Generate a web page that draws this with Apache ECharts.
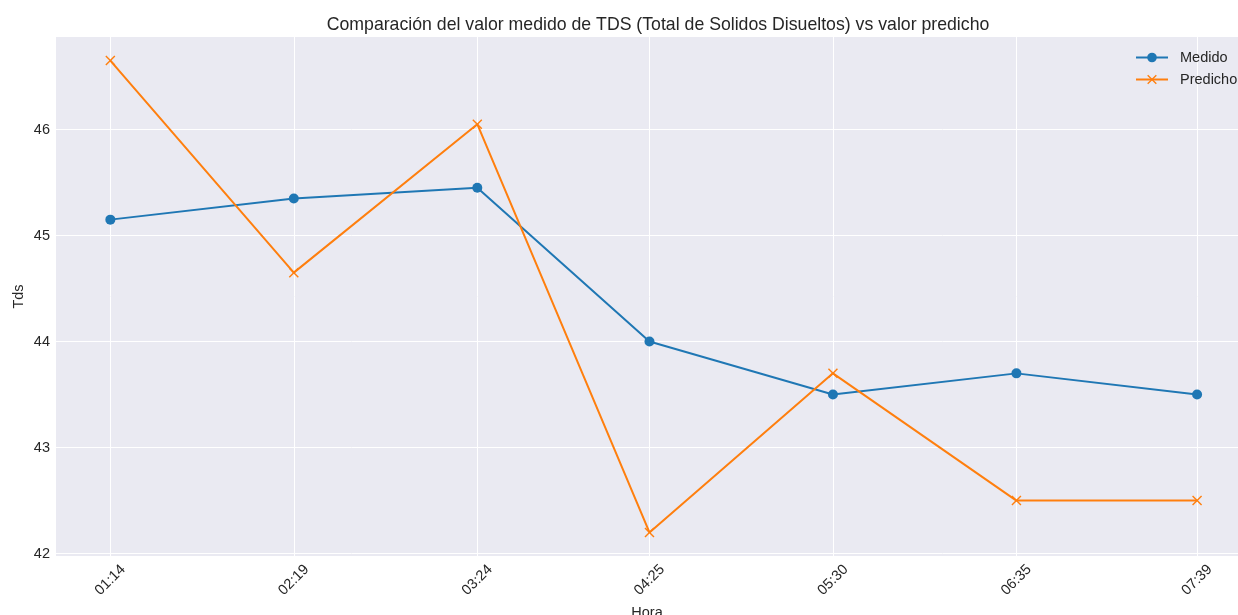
<!DOCTYPE html>
<html>
<head>
<meta charset="utf-8">
<script src="https://cdn.jsdelivr.net/npm/echarts@6/dist/echarts.min.js"></script>
<style>html,body{margin:0;padding:0;background:#fff}#c{width:1238px;height:615px}</style>
</head>
<body>
<div id="c"></div>
<script>
const horas = ['01:14','02:19','03:24','04:25','05:30','06:35','07:39'];
const medido = [45.15, 45.35, 45.45, 44.0, 43.5, 43.7, 43.5];
const predicho = [46.65, 44.65, 46.05, 42.2, 43.7, 42.5, 42.5];
const yTicks = [42, 43, 44, 45, 46];

function toMin(h){ const p = h.split(':'); return (+p[0])*60 + (+p[1]); }
const xs = horas.map(toMin);
const labelOf = {}; horas.forEach((h,i)=>{ labelOf[xs[i]] = h; });

const FONT = '"Liberation Sans", Arial, sans-serif';
const TXT = '#262626';
const xPath = 'path://M1,0 L5,4 L9,0 L10,1 L6,5 L10,9 L9,10 L5,6 L1,10 L0,9 L4,5 L0,1 Z';

const chart = echarts.init(document.getElementById('c'), null, {renderer:'canvas'});
chart.setOption({
  backgroundColor: '#ffffff',
  animation: false,
  title: {
    text: 'Comparación del valor medido de TDS (Total de Solidos Disueltos) vs valor predicho',
    left: 653, top: 11, textAlign: 'center',
    textStyle: {fontFamily: FONT, fontSize: 17.7, fontWeight: 'normal', color: TXT}
  },
  legend: {
    orient: 'vertical', left: 1130, top: 45, itemGap: 7,
    itemWidth: 32, itemHeight: 12,
    textStyle: {fontFamily: FONT, fontSize: 14.5, color: TXT, padding: [0,0,0,7]},
    data: ['Medido', 'Predicho']
  },
  grid: {left: 56, right: 0, top: 37, bottom: 59, outerBoundsMode: 'none', containLabel: false,
         show: true, backgroundColor: '#EAEAF2', borderWidth: 0},
  xAxis: {
    type: 'value', min: 54.75, max: 473.5,
    name: 'Hora', nameLocation: 'middle', nameGap: 44,
    nameTextStyle: {fontFamily: FONT, fontSize: 14.5, color: TXT},
    axisLine: {show: false}, axisTick: {show: false, customValues: xs},
    splitLine: {show: true, lineStyle: {color: '#ffffff', width: 1}},
    axisLabel: {
      customValues: xs, rotate: 45, align: 'center', verticalAlign: 'middle', margin: 24,
      fontFamily: FONT, fontSize: 14.5, color: TXT,
      formatter: v => labelOf[v] || ''
    }
  },
  yAxis: {
    type: 'value', min: 41.9775, max: 46.8725,
    name: 'Tds', nameLocation: 'middle', nameGap: 30, nameMoveOverlap: false,
    nameTextStyle: {fontFamily: FONT, fontSize: 14.5, color: TXT},
    axisLine: {show: false}, axisTick: {show: false, customValues: yTicks},
    splitLine: {show: true, lineStyle: {color: '#ffffff', width: 1}},
    axisLabel: {customValues: yTicks, margin: 6, fontFamily: FONT, fontSize: 14.5, color: TXT}
  },
  series: [
    {
      name: 'Medido', type: 'line',
      data: xs.map((x,i)=>[x, medido[i]]),
      symbol: 'circle', symbolSize: 10, showAllSymbol: true,
      lineStyle: {color: '#1f77b4', width: 2},
      itemStyle: {color: '#1f77b4'}
    },
    {
      name: 'Predicho', type: 'line',
      data: xs.map((x,i)=>[x, predicho[i]]),
      symbol: xPath, symbolSize: 10, showAllSymbol: true,
      lineStyle: {color: '#ff7f0e', width: 2},
      itemStyle: {color: '#ff7f0e'}
    }
  ]
});
</script>
</body>
</html>
